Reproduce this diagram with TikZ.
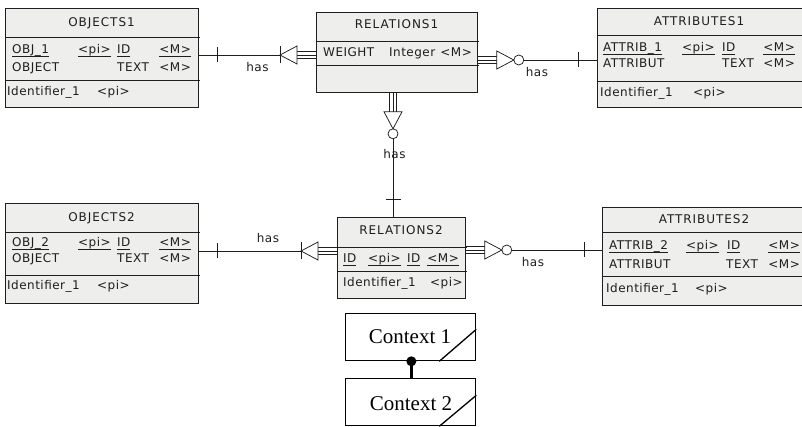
\documentclass[tikz,border=0pt]{standalone}
\usepackage{fontspec}
\usetikzlibrary{calc}
\newfontfamily\erfont[LetterSpace=4]{DejaVu Sans}
\newfontfamily\erheadfont[LetterSpace=8]{DejaVu Sans}
\newfontfamily\ctxfont{Liberation Serif}
\definecolor{entfill}{RGB}{238,238,237}
\definecolor{inkc}{RGB}{30,30,30}
% underline drawn at a fixed depth, so that underscores sit on it
\newcommand\ulx[1]{\setbox0\hbox{#1}\rlap{\rule[-2.6pt]{\wd0}{0.6pt}}\box0}
% entity box: name, x0, y0, x1, y1, first separator, second separator
\newcommand\erbox[7]{%
  \node[ent, minimum width={#4-#2}, minimum height={#5-#3}] (#1) at (#2,#3) {};
  \draw[sepline] (#2,#6) -- (#4+2,#6) (#2,#7) -- (#4+2,#7);
}
\begin{document}
\begin{tikzpicture}[x=1pt,y=-1pt,
  ent/.style={draw=inkc, fill=entfill, line width=0.8pt, rectangle, inner sep=0pt, anchor=north west},
  sepline/.style={draw=inkc, line width=0.8pt},
  txt/.style={font=\erfont\fontsize{12}{14}\selectfont, text=inkc, inner sep=0pt},
  hdr/.style={txt, font=\erheadfont\fontsize{12}{14}\selectfont, anchor=base},
  cell/.style={txt, anchor=base west},
  cellr/.style={txt, anchor=base east},
  haslbl/.style={txt, anchor=base},
  link/.style={draw=inkc, line width=0.75pt},
  ctx/.style={draw=black, line width=1.3pt, rectangle, inner sep=0pt, anchor=north west,
    minimum width=130, minimum height=47},
  ctxtxt/.style={font=\ctxfont\fontsize{21}{24}\selectfont, inner sep=0pt, anchor=base},
  % many end, optional: three lines, open triangle, circle
  manyopt/.pic={
    \draw[link] (0,-3.8) -- (19,-3.8) (0,3.8) -- (19,3.8);
    \draw[link, fill=white] (19,-9) -- (19,9) -- (36,0) -- cycle;
    \draw[link, fill=white] (41,0) circle (5pt);
  },
  % many end, mandatory: three lines, open triangle, bar
  manyreq/.pic={
    \draw[link] (0,-3.8) -- (19,-3.8) (0,3.8) -- (19,3.8);
    \draw[link, fill=white] (19,-9) -- (19,9) -- (36,0) -- cycle;
    \draw[link] (36,-8.5) -- (36,8.5);
  },
  onebar/.pic={\draw[link] (0,-7.5) -- (0,7.5);}
]
\useasboundingbox (0,0) rectangle (802,427);

% ---------- entities ----------
\erbox{obj1}{5}{8}{198}{107}{37}{80}
\node[hdr] (obj1h) at (101.5,27) {OBJECTS1};
\node[cell] (obj1a) at (12,54) {\ulx{OBJ\_1}};
\node[cell] (obj1b) at (78,54) {\ulx{<pi>}};
\node[cell] (obj1c) at (117,54) {\ulx{ID}};
\node[cellr] (obj1d) at (191,54) {\ulx{<M>}};
\node[cell] (obj1e) at (12,72) {OBJECT};
\node[cell] (obj1f) at (117,72) {TEXT};
\node[cellr] (obj1g) at (191,72) {<M>};
\node[cell] (obj1i) at (7,96) {Identifier\_1};
\node[cell] (obj1j) at (97,96) {<pi>};

\erbox{rel1}{316}{12}{477}{92}{41}{65}
\node[hdr] (rel1h) at (396.5,29) {RELATIONS1};
\node[cell] (rel1a) at (323,57) {WEIGHT};
\node[cell] (rel1b) at (389,57) {Integer};
\node[cellr] (rel1c) at (472,57) {<M>};

\erbox{att1}{597}{8}{805}{107}{35}{81}
\node[hdr] (att1h) at (699,26) {ATTRIBUTES1};
\node[cell] (att1a) at (603,52) {\ulx{ATTRIB\_1}};
\node[cell] (att1b) at (682,52) {\ulx{<pi>}};
\node[cell] (att1c) at (722,52) {\ulx{ID}};
\node[cellr] (att1d) at (795,52) {\ulx{<M>}};
\node[cell] (att1e) at (603,68) {ATTRIBUT};
\node[cell] (att1f) at (722,68) {TEXT};
\node[cellr] (att1g) at (795,68) {<M>};
\node[cell] (att1i) at (600,97) {Identifier\_1};
\node[cell] (att1j) at (693,97) {<pi>};

\erbox{obj2}{5}{203}{198}{303}{232}{275}
\node[hdr] (obj2h) at (101.5,222) {OBJECTS2};
\node[cell] (obj2a) at (12,247) {\ulx{OBJ\_2}};
\node[cell] (obj2b) at (78,247) {\ulx{<pi>}};
\node[cell] (obj2c) at (117,247) {\ulx{ID}};
\node[cellr] (obj2d) at (191,247) {\ulx{<M>}};
\node[cell] (obj2e) at (12,263) {OBJECT};
\node[cell] (obj2f) at (117,263) {TEXT};
\node[cellr] (obj2g) at (191,263) {<M>};
\node[cell] (obj2i) at (7,290) {Identifier\_1};
\node[cell] (obj2j) at (97,290) {<pi>};

\erbox{rel2}{337}{217}{465}{298}{247}{271}
\node[hdr] (rel2h) at (401,235) {RELATIONS2};
\node[cell] (rel2a) at (343,263) {\ulx{ID}};
\node[cell] (rel2b) at (368,263) {\ulx{<pi>}};
\node[cell] (rel2c) at (407,263) {\ulx{ID}};
\node[cellr] (rel2d) at (459,263) {\ulx{<M>}};
\node[cell] (rel2i) at (343,287) {Identifier\_1};
\node[cell] (rel2j) at (430,287) {<pi>};

\erbox{att2}{602}{207}{805}{305}{232}{276}
\node[hdr] (att2h) at (704,224) {ATTRIBUTES2};
\node[cell] (att2a) at (609,250) {\ulx{ATTRIB\_2}};
\node[cell] (att2b) at (686,250) {\ulx{<pi>}};
\node[cell] (att2c) at (727,250) {\ulx{ID}};
\node[cellr] (att2d) at (800,250) {\ulx{<M>}};
\node[cell] (att2e) at (609,269) {ATTRIBUT};
\node[cell] (att2f) at (726,269) {TEXT};
\node[cellr] (att2g) at (800,269) {<M>};
\node[cell] (att2i) at (606,292) {Identifier\_1};
\node[cell] (att2j) at (695,292) {<pi>};

% ---------- relationships ----------
\coordinate (lnA) at (0,55);
\coordinate (lnB) at (0,60);
\coordinate (lnC) at (393,0);
\coordinate (lnD) at (0,251);
\coordinate (lnE) at (0,250);

% OBJECTS1 -- RELATIONS1
\draw[link] (obj1.east |- lnA) -- (rel1.west |- lnA);
\pic at ($(obj1.east |- lnA)+(19,0)$) {onebar};
\pic[rotate=180] at (rel1.west |- lnA) {manyreq};
\node[haslbl] (hasA) at (257.5,72) {has};

% RELATIONS1 -- ATTRIBUTES1
\draw[link] (rel1.east |- lnB) -- (att1.west |- lnB);
\pic at (rel1.east |- lnB) {manyopt};
\pic at ($(att1.west |- lnB)+(-19,0)$) {onebar};
\node[haslbl] (hasB) at (537,77) {has};

% RELATIONS1 -- RELATIONS2
\draw[link] (rel1.south -| lnC) -- (rel2.north -| lnC);
\pic[rotate=-90] at (rel1.south -| lnC) {manyopt};
\pic[rotate=90] at ($(rel2.north -| lnC)+(0,-18)$) {onebar};
\node[haslbl] (hasC) at (394.5,159) {has};

% OBJECTS2 -- RELATIONS2
\draw[link] (obj2.east |- lnD) -- (rel2.west |- lnD);
\pic at ($(obj2.east |- lnD)+(19,0)$) {onebar};
\pic[rotate=180] at (rel2.west |- lnD) {manyreq};
\node[haslbl] (hasD) at (268,243) {has};

% RELATIONS2 -- ATTRIBUTES2
\draw[link] (rel2.east |- lnE) -- (att2.west |- lnE);
\pic at (rel2.east |- lnE) {manyopt};
\pic at ($(att2.west |- lnE)+(-18,0)$) {onebar};
\node[haslbl] (hasE) at (533,267) {has};

% ---------- contexts ----------
\node[ctx] (ctx1) at (345,313) {};
\node[ctx] (ctx2) at (345,378) {};
\node[ctxtxt] (ctx1t) at (410,343) {Context 1};
\node[ctxtxt] (ctx2t) at (411,410) {Context 2};
\draw[line width=1.3pt] ($(ctx1.south east)+(-37,0)$) -- ($(ctx1.south east)+(0,-32)$);
\draw[line width=1.3pt] ($(ctx2.south east)+(-37,0)$) -- ($(ctx2.south east)+(0,-31)$);
\coordinate (ctxdot) at ($(ctx1.south)+(0.7,0)$);
\draw[line width=2.6pt] (ctxdot) -- (ctx2.north -| ctxdot);
\fill (ctxdot) circle (5pt);
\end{tikzpicture}
\end{document}
